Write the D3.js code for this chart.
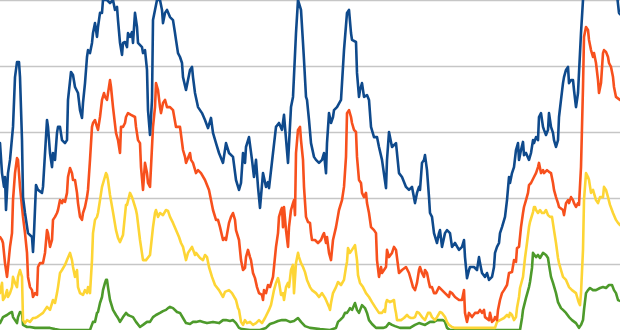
<!DOCTYPE html>
<html>
<head>
<meta charset="utf-8">
<script src="https://cdn.jsdelivr.net/npm/d3@7"></script>
<style>
    html, body { margin: 0; padding: 0; background: #ffffff; overflow: hidden; }
    .grid line { stroke: #c6c6c6; stroke-width: 1.6px; }
    .grid path { display: none; }
    .line { fill: none; stroke-width: 2.6px; stroke-linejoin: round; stroke-linecap: round; }
</style>
</head>
<body>
<div id="chart"></div>
<script>
// Values: [week, value]
var blueSeries = [
    [0,62.3],[0.5,52.3],[1,47.7],[1.25,51],[1.5,40],[2,52.3],[2.5,56.7],[3.25,67.7],[3.75,84.3],[4.25,89.3],
    [4.75,89.3],[5,84.3],[5.5,63.3],[5.75,44.3],[6.25,39],[7,32.3],[8,31],[8.25,26],[8.5,32.3],[9,48.3],
    [9.5,46.7],[10.5,45.7],[10.75,47.7],[11.75,70],[12,67.7],[12.5,59],[13,54.3],[13.25,59],[13.75,56.7],[14.25,65.7],
    [14.5,67.7],[15,67.7],[15.5,63.3],[16.25,62.3],[16.75,63.3],[17,76.7],[17.75,86],[18.25,85],[18.75,81],[19.5,79],
    [20,73.3],[20.5,70.7],[20.75,75.7],[21.25,82.3],[21.75,91],[22,93.3],[22.5,92.3],[23,95.7],[23.25,99],[23.75,102.3],
    [24.25,97.7],[24.5,101],[25,105.7],[25.5,105.7],[25.75,110],[26.75,110],[27.5,109],[28.25,110],[28.75,106.7],[29.25,107.7],
    [29.5,103.3],[30,95.7],[30.5,91.7],[30.75,95.7],[31.25,96],[31.75,94.3],[32,99],[32.5,97.7],[33,99.3],[33.25,95.7],
    [33.75,105.7],[34.25,101],[34.5,95.7],[35.5,94.3],[35.75,92.3],[36.25,93.3],[36.75,86.7],[37,73.3],[37.5,65],[38,76.7],
    [38.25,103.3],[38.75,106.7],[39.25,110],[40,110],[40.5,106.7],[40.75,102.3],[41.25,105.7],[41.75,106.7],[42.5,104.3],[43.25,103.3],
    [43.75,99],[44,96.7],[44.5,92.3],[45,91],[45.5,89],[45.75,84.3],[46.5,80],[47.5,86.7],[48,87.7],[48.25,84.3],
    [48.75,79],[49.5,74.3],[50.5,72.3],[51.25,70],[52,67.3],[52.75,70.7],[53.25,65.7],[54,62.3],[54.75,59],[55.75,55.7],
    [56.5,62.3],[57.25,59],[58.25,57.7],[59,50],[59.75,46.7],[60.25,49],[60.75,59],[61.25,55.7],[61.5,61],[62.25,64.3],
    [63,56.7],[63.5,51],[64,56.7],[64.5,47.7],[65,40.7],[65.75,52.3],[66.5,47.7],[67,49.3],[67.25,47.3],[68.25,59],
    [69,67.7],[69.75,69],[70.5,66.7],[71,71.7],[72,55.7],[72.75,74.3],[73.25,77.7],[74,99],[74.5,110],[75.25,106.7],
    [75.75,95.7],[76,90],[76.5,77.7],[76.75,76.7],[77.25,70],[77.75,62.3],[78.5,57.7],[79,56.7],[79.75,55.7],[80.5,56.7],
    [81,59],[81.5,52.3],[81.75,62.3],[82.25,72.3],[82.75,69],[83.25,71],[83.5,73.3],[84.25,74.3],[85.25,76.7],[86,93.3],
    [86.75,105.7],[87.25,106.7],[87.75,99],[88,96.7],[89,96],[89.25,85.7],[89.75,77.7],[90,80],[90.5,82.3],[91,77.7],
    [91.75,78.3],[92.25,76.7],[92.75,67.7],[93.5,64.3],[94.25,64.3],[94.75,61],[95.5,56.7],[96.5,47.3],[96.75,56.7],[97.25,66],
    [98,61],[99,62.3],[99.75,52.3],[100.5,51],[101.5,47.7],[102.25,46.7],[103,47.7],[103.75,42.3],[104.25,45.7],[104.75,47.7],
    [105,46.7],[105.5,55.7],[106,56.7],[106.25,58.3],[106.75,53.3],[107.25,44.3],[107.5,39],[108,37.7],[108.5,32.3],[109.25,29],
    [109.75,32.3],[110,33.3],[110.5,27.7],[111.25,32.3],[111.75,33.3],[112.5,32.3],[113,27.7],[113.75,29],[114.75,26.7],[115.5,27.7],
    [116,30],[116.25,24.3],[116.75,17.3],[117.25,20],[117.5,21],[118.5,21],[119.25,20],[119.75,24.3],[120,22.3],[120.5,19],
    [121.25,17.7],[121.75,19],[122.25,16.7],[123,17.7],[123.5,21],[123.75,25.7],[124.25,27.7],[124.75,29],[125,32.3],[125.5,34.3],
    [126.25,37.7],[126.75,43.3],[127.25,51],[127.5,49],[128,52.3],[128.5,54.3],[129,60],[129.5,62.3],[129.75,56.7],[130.25,60],
    [130.75,62.7],[131,58.3],[131.5,59],[132.25,56.7],[132.75,59],[133.25,63.3],[133.5,62.3],[134,64.3],[134.5,63.3],[134.75,71],
    [135.25,72.3],[135.75,67.7],[136,66.7],[136.5,65],[137,66.7],[137.25,72.3],[137.75,67.7],[138.25,65.7],[138.5,63.3],[139,61],
    [139.5,63.3],[139.75,71],[140.25,76.7],[140.75,82.3],[141,84.3],[141.5,86.7],[142,87.7],[142.25,82.3],[142.75,83.3],[143.25,83.3],
    [143.5,80],[144,74.3],[144.5,79],[144.75,85.7],[145.25,99],[145.75,110],[146.5,126.7],[150,130],[153,123.3],[154.25,111.7],
    [154.75,105.7],[155,105.3]
];

var redSeries = [
    [0,31],[0.5,30],[0.75,29],[1.25,22.3],[1.75,17.7],[2,21],[2.5,27.7],[3,32.3],[3.25,43.3],[3.75,52.3],
    [4.25,57.3],[4.5,56.7],[5,47.7],[5.5,41],[5.75,37.7],[6.25,32.3],[6.75,25.7],[7,17.7],[7.5,14.3],[8,13.3],
    [8.25,11],[8.75,12.3],[9.25,11.7],[9.5,21],[10,22.3],[10.75,22.3],[11.25,25.7],[11.75,33.3],[12,32.3],[12.5,27.7],
    [13,30],[13.25,36.7],[13.75,37.7],[14.25,39],[14.5,40],[15,43.3],[15.5,42.3],[15.75,43.3],[16.25,42.7],[16.75,45.7],
    [17,51],[17.5,54],[18,52.3],[18.25,50],[18.75,50],[19.25,45.7],[19.5,42.3],[20,37.7],[20.5,36.7],[20.75,39],
    [21.25,41],[21.75,44.3],[22,46.7],[22.5,56.7],[23,67.7],[23.25,69],[23.75,70],[24.25,67.7],[24.5,66.7],[25,71],
    [25.5,76.7],[26,79],[26.25,77.7],[26.75,76.7],[27.5,83.3],[27.75,81],[28.25,74.3],[29,65.7],[29.5,63.3],[30,59],
    [30.25,67.7],[30.75,67.7],[31.25,69],[31.5,71],[32,72.3],[32.75,71.7],[33.75,71],[34,67.7],[34.5,63.3],[35,62.3],
    [35.25,54.3],[35.75,46.7],[36.25,55.7],[36.75,52.3],[37,49],[37.5,47.7],[37.75,54.3],[38.25,67.7],[38.75,74.3],[39,82.3],
    [39.5,80],[40,74.3],[40.25,72.3],[40.75,75.7],[41.25,76.7],[41.75,74.3],[42.5,74.3],[43.25,73.3],[44,67.7],[45,67.7],
    [45.75,60],[46.25,57.7],[46.5,55.7],[47.5,59],[47.75,56.7],[48.25,55.7],[49,52.3],[49.5,53.3],[50.25,52.3],[51.25,50],
    [52.25,46.7],[53.25,40],[54,36.7],[54.5,36.7],[55,34.3],[55.75,30],[56.25,30.7],[56.5,30],[57.25,35.7],[57.75,37.7],
    [58.25,39],[58.75,36.7],[59,33.3],[59.75,30],[60.25,23.3],[60.75,20],[61.25,20.7],[61.5,24.3],[62,26.7],[62.5,24.3],
    [62.75,23.3],[63.25,19],[63.75,17.3],[64.25,14.3],[64.75,12.3],[65.5,11.7],[65.75,10],[66,13.3],[66.5,12.3],[67,15],
    [67.5,14.3],[68.25,17.7],[68.5,21],[69,27.7],[69.5,32.3],[69.75,37.7],[70.25,40],[70.5,40.7],[70.75,34.3],[71,41],
    [71.5,33.3],[72,27.7],[72.25,34.3],[72.75,40],[73.25,42.3],[73.5,43.3],[73.75,38.3],[74,59],[74.5,66.7],[75,67.7],
    [75.25,63.3],[75.75,56.7],[76,47.7],[76.5,37.7],[77,36],[77.5,35.7],[77.75,32.3],[78,30],[78.75,30],[79.5,29],
    [80.25,30],[80.75,31.7],[81,32.3],[81.5,29],[81.75,31],[82.25,25.7],[82.75,23.3],[83.25,30],[84,34.3],[84.75,40],
    [85.5,43.3],[86,47.7],[86.5,57.7],[86.75,72.3],[87.25,73.3],[87.75,71],[88,69],[88.5,66.7],[89,66],[89.25,57.7],
    [89.75,50],[90.25,49],[90.5,45.7],[91,44.3],[91.5,45.7],[91.75,42.3],[92.25,39],[92.75,34.3],[93.5,33.3],[94,32.3],
    [94.25,23.3],[94.75,17.7],[95.25,21],[95.5,19],[96.5,21],[96.75,26.7],[97.25,24.3],[98,25.7],[98.5,27.7],[99,26.7],
    [99.75,19],[100.5,20],[101.5,21],[102.25,19],[102.75,16.7],[103.25,14.3],[103.75,13.3],[104.25,15.7],[104.75,20],[105,21],
    [105.5,19],[106,17.7],[106.25,20],[106.75,19],[107.25,15.7],[107.5,14.3],[108,14.3],[108.5,12.3],[109,12.3],[109.75,14.3],
    [110.5,13.3],[111.25,12.3],[112.25,11],[112.5,12.7],[113,12.3],[113.75,11],[114.75,10],[115.5,10],[116,13.3],[116.25,5.7],
    [116.75,2.7],[117.25,5.7],[118,4.3],[118.75,5.7],[119.5,5.7],[120,6.7],[120.5,5.7],[121,6.7],[121.25,4.3],[122.25,3.3],
    [122.5,5.7],[123,2.7],[123.5,3.3],[123.75,4.3],[124.25,3.3],[124.5,6.7],[125,10],[125.5,12.3],[126,13.3],[126.75,15],
    [127.25,19],[128,19.3],[128.5,23.3],[129,22.7],[129.25,27.3],[129.75,27.7],[130.25,34.3],[130.75,39],[131,41],[131.5,43.3],
    [132,45.7],[132.25,48.3],[132.75,49],[133.5,51],[134,52.3],[134.5,54.3],[134.75,55.7],[135.25,52.3],[135.75,53.3],[136,52.3],
    [136.75,53.3],[137.25,52.7],[137.75,52.3],[138.25,49],[138.5,46.7],[139,44.3],[139.5,42.3],[139.75,41],[140.75,40],[141,38.3],
    [141.5,42.3],[142,43.3],[142.25,42.3],[142.75,44.3],[143.25,43.3],[143.5,42.3],[144,41],[144.5,42.3],[144.75,41.7],[145.25,54.3],
    [145.75,81],[146,97.7],[146.5,101],[147,100],[147.25,96.7],[147.75,93.3],[148.25,91],[148.5,92.3],[149,89],[149.5,83.3],
    [149.75,79],[150.25,82.3],[150.75,92.3],[151,93.3],[151.5,92.7],[152,91],[152.25,89],[152.75,87.7],[153.25,84.3],[153.5,81],
    [154,77.7],[155,76.7]
];

var yellowSeries = [
    [0,12.3],[0.5,15.7],[0.75,10],[1.25,11],[1.75,13.3],[2,11],[2.5,12.3],[3,14.3],[3.25,17.7],[3.75,15.7],
    [4.25,14.3],[4.5,17.7],[5,20],[5.5,17.7],[5.75,3.3],[6.25,2.3],[6.75,3.3],[7.5,2.7],[8.25,4],[8.75,4],
    [9.25,4.3],[10,5],[10.75,5.7],[11.75,7.7],[12.5,6.7],[13.25,10],[13.75,9],[14.25,12.3],[14.5,14.3],[15,19],
    [15.5,20],[16.25,21.7],[16.75,23.3],[17.5,25.7],[18,23.3],[18.25,21],[18.75,17.7],[19.25,20],[19.5,14.3],[20,12.3],
    [20.75,11.7],[21.25,13.3],[21.75,12.3],[22,14.3],[22.5,12.3],[23,23.3],[23.25,32.3],[23.75,36.7],[24.25,37.7],[24.5,39],
    [25,43.3],[25.5,47.7],[26,50],[26.5,52.3],[26.75,51.7],[27,50],[27.5,45],[28.25,39.3],[29,33.3],[29.5,30.7],
    [30,29.3],[30.75,31.7],[31.5,41.7],[31.75,41.7],[32.5,45.7],[33,44.3],[33.25,43.3],[34,40],[34.25,38.3],[35,30],
    [35.75,23.3],[36.5,23.3],[37.5,25],[38.25,34.3],[38.75,39],[39,40],[39.5,37.7],[40,39],[40.75,38.3],[41.5,40],
    [42,39.7],[42.5,37.7],[43.25,35.7],[44,33.3],[44.75,31],[45.25,29],[45.75,27.7],[46.5,23.3],[47,25.7],[47.5,26.7],
    [48,27.7],[48.75,25],[49,25.7],[50,24],[50.75,23.3],[51.25,25],[51.75,24.3],[52.25,21],[53,17.7],[53.75,15],
    [54.75,13.3],[55.75,11],[56.25,12.7],[57.25,13.3],[58,12.3],[59,10],[59.5,7.3],[59.75,6.7],[60.25,2.7],[60.75,1.7],
    [61.25,3.3],[61.75,2.3],[62.5,2.7],[63.25,1.7],[64,2.3],[64.75,3.3],[65.5,2.3],[66.25,4],[67.25,6.7],[67.75,8.3],
    [68.5,13.3],[69,15.7],[69.5,17.3],[69.75,16],[70.25,11.7],[70.5,11.7],[70.75,12.3],[71,10],[71.5,14.3],[72,15.7],
    [72.25,14.3],[72.75,20],[73.25,21.7],[73.5,12.3],[74,22.3],[74.5,25.7],[74.75,24.3],[75.25,22.3],[75.75,21],[76.25,19.3],
    [76.75,16.7],[77.5,14.3],[78,13.3],[79,12.3],[79.75,11],[80.5,12.3],[81.25,10.7],[81.5,10],[82.25,7.7],[82.5,6.7],
    [82.75,9],[83.25,12.3],[84,14.3],[84.5,16],[85.25,15],[86,16.7],[86.5,21],[86.75,22.7],[87,27.3],[87.5,25.7],
    [88,26.7],[88.75,28.3],[89.25,23.3],[89.5,18.3],[90,15.7],[90.75,14.3],[91.5,12.3],[92.25,11],[93,9.3],[93.75,7.7],
    [94.75,5.7],[95.5,5.7],[96,6.7],[96.25,6],[96.5,9],[96.75,10],[97.5,9.3],[98.5,10],[98.75,7.3],[99,5.7],
    [99.25,3.3],[100.25,3.3],[101,4],[101.75,5],[102.25,4.3],[102.75,4],[103.25,4],[103.75,4.3],[104.25,6],[104.75,5.7],
    [105.5,4.3],[106.25,3.3],[107,5.7],[107.5,5.7],[108,4.3],[108.75,3.3],[109.25,4.3],[110,6],[110.5,5.7],[111.25,4.3],
    [111.75,2.7],[112.25,1.7],[113,1],[113.75,0.7],[115,0.7],[122.5,0.7],[123.75,0.7],[124.25,2.7],[125,3.3],[126,4],
    [126.75,5],[127.25,4.3],[127.5,5.7],[128,5],[128.5,3.3],[129,4.3],[129.25,7.3],[129.75,11],[130,14],[130.75,17.7],
    [131.25,24],[131.75,29],[132.25,34.3],[132.5,36],[133.25,39.3],[133.5,41],[133.75,41],[134,40],[134.5,39],[135,40],
    [135.5,39],[136,39],[136.5,40],[137,38.3],[137.5,37.7],[138,37.7],[138.5,33.3],[139,29],[139.5,24],[139.75,22.3],
    [140.25,20],[140.75,17.7],[141.5,16.7],[142.25,14.3],[143,13.3],[144,12.3],[144.5,10],[144.75,9],[145,8.3],[145.25,12.3],
    [145.75,26.7],[146,43.3],[146.5,52.3],[147,51],[147.25,50],[147.75,45.7],[148.25,46.7],[149,43.3],[149.5,42.3],[150,44.3],
    [150.75,44.3],[151,47.7],[151.5,46.7],[152,44.3],[152.5,41.7],[153.25,39],[154,36.7],[154.5,35.7],[155,35]
];

var greenSeries = [
    [0,2.3],[0.75,4.3],[1.75,5],[2.5,5.7],[3,6],[3.25,4.3],[4.25,2.3],[4.5,4.3],[5,6],[5.5,5.7],
    [5.75,1.7],[6.75,1],[7.5,1],[8.75,0.7],[10,0.7],[12.5,0.7],[13.75,0.3],[15,0],[20,0],[22.5,0],
    [23.25,2.7],[23.75,2.7],[24.25,5.7],[24.5,6],[25,9],[25.5,11],[25.75,13.3],[26.25,15.7],[26.5,16.7],[26.75,16.7],
    [27,14.3],[27.5,10],[28.25,6.7],[29,5],[29.5,4],[30,2.7],[30.75,4.3],[31.5,5.7],[32,5],[32.5,4.7],
    [33.25,4.3],[34,2.7],[35,1],[35.75,1.7],[36.75,2.7],[37.5,2.7],[38.25,4.3],[39,5],[40,5.7],[40.75,6.3],
    [41.5,6.7],[42,7.3],[42.5,7.7],[43.25,7.3],[44.25,6],[45,5.7],[45.75,4],[46.5,2.3],[47.5,2],[48.25,2.7],
    [49,2.7],[50,3],[50.75,2.7],[51.75,2.3],[53.25,2.7],[54.75,2.3],[55.75,3.3],[56.5,3.3],[57.5,3],[58.25,3.3],
    [59,2.3],[59.75,0.7],[60.5,0.3],[62.5,0],[65,0],[66.5,0.7],[67.5,2],[68.25,2.3],[69.5,3],[70.5,3.3],
    [71.5,3.3],[72.5,2.7],[73.5,3],[74.5,4],[75.25,2.7],[76.25,1.3],[77.5,0.7],[80,0.3],[82.5,0],[84,0.7],
    [84.5,2.7],[85,3.3],[85.75,4.3],[86.25,5.7],[86.75,5.7],[87.25,6.7],[87.5,7.3],[88,6.7],[88.75,9],[89.25,6.7],
    [89.75,5.7],[90.5,8.3],[91.25,7.3],[91.75,5.7],[92.25,3.3],[93,2],[94,0.7],[95.75,0.7],[96.5,1],[97.25,2.3],
    [98,1.7],[98.75,1.3],[100,0.7],[102.5,0.7],[103.75,1.7],[104.75,2.3],[106.25,1.7],[107.5,2.7],[108.5,2.7],[109.25,3.3],
    [110,3.3],[110.75,3.3],[111.25,2.7],[111.75,0.7],[112.5,0],[115,0],[125,0],[128.75,0],[130,0],[130.5,4],
    [130.75,6.7],[131.5,10.7],[132.25,14.3],[132.5,16],[133,20.7],[133.25,25.7],[134,24.3],[134.5,25],[135,24],[135.75,25.7],
    [136.5,25],[137,24],[137.25,21.7],[137.75,17.7],[138.25,15.7],[139,12.3],[139.5,9.3],[140.25,7.3],[140.75,6.7],[141.5,5.7],
    [142.25,4.3],[143,3.3],[144,2.3],[144.75,0.7],[145.25,1.7],[145.75,3.3],[146,6.7],[146.5,12.3],[147,13.3],[147.5,14],
    [148.25,13.3],[149,13.3],[150,14],[150.75,14.3],[151.5,14],[152.25,15],[153,15],[153.5,13.3],[154,12.3],[154.5,10],
    [155,9.7]
];

// Horizontal grid values
var gridTicks = [22, 44, 66, 88, 110];

var width, height, svg, xScale, yScale;

function drawGrid() {
    var gridAxis = d3.axisLeft(yScale)
        .tickValues(gridTicks)
        .tickSize(-width)
        .tickFormat("");

    svg.append("g")
        .attr("class", "grid")
        .call(gridAxis);
}

function drawSeries(data, colour) {
    var line = d3.line()
        .x(function (d) { return xScale(d[0]); })
        .y(function (d) { return yScale(d[1]); });

    svg.append("path")
        .datum(data)
        .attr("class", "line")
        .attr("stroke", colour)
        .attr("d", line);
}

function init() {
    width = 620;
    height = 330;

    svg = d3.select("#chart")
        .append("svg")
        .attr("width", width)
        .attr("height", height)
        .style("display", "block");

    xScale = d3.scaleLinear()
        .domain([0, 155])
        .range([0, width]);

    yScale = d3.scaleLinear()
        .domain([0, 110])
        .range([height, 0]);

    drawGrid();

    drawSeries(greenSeries, "#4d9a2b");
    drawSeries(yellowSeries, "#fdd535");
    drawSeries(redSeries, "#f7501d");
    drawSeries(blueSeries, "#0f4a8c");
}

window.onload = init;
</script>
</body>
</html>
